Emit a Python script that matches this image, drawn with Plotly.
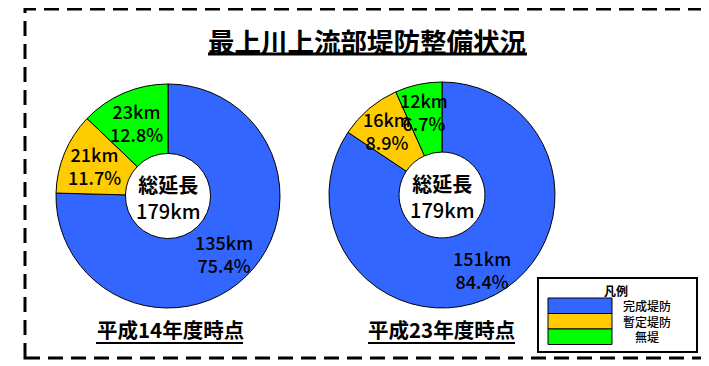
import math
import plotly.graph_objects as go

# page body has an 8px default margin; figure is sized to fill the rest of the window
OFF = 8
W, H = 709 - OFF, 366 - OFF

# ---- data ----
categories = ["完成堤防", "暫定堤防", "無堤"]
km_h14 = [135, 21, 23]
pct_h14 = ["75.4%", "11.7%", "12.8%"]
km_h23 = [151, 16, 12]
pct_h23 = ["84.4%", "8.9%", "6.7%"]
period_labels = ["平成14年度時点", "平成23年度時点"]
title_text = "最上川上流部堤防整備状況"
colors = ["#3366FF", "#FFCC00", "#00FF00"]

FONT = "Noto Sans CJK JP"

def px(x):
    return (x - OFF) / W

def py(y):
    return 1 - (y - OFF) / H

fig = go.Figure()

pies = [
    dict(vals=km_h14, pcts=pct_h14, cx=168, cy=196, r=112, rlab=80, lab=period_labels[0], lx=170, ux=(96, 243)),
    dict(vals=km_h23, pcts=pct_h23, cx=442, cy=195, r=113, rlab=85, lab=period_labels[1], lx=441, ux=(368, 515)),
]

annotations = []
shapes = []

for p in pies:
    cx, cy, r = p["cx"], p["cy"], p["r"]
    fig.add_trace(go.Pie(
        labels=categories,
        values=p["vals"],
        sort=False,
        direction="clockwise",
        rotation=0,
        hole=0.38,
        marker=dict(colors=colors, line=dict(color="black", width=1)),
        textinfo="none",
        hoverinfo="label+value",
        showlegend=False,
        domain=dict(x=[px(cx - r), px(cx + r)], y=[py(cy + r), py(cy - r)]),
    ))
    total = sum(p["vals"])
    cum = 0
    for v, pc in zip(p["vals"], p["pcts"]):
        mid = (cum + v / 2) / total * 2 * math.pi
        cum += v
        x = cx + p["rlab"] * math.sin(mid)
        y = cy - p["rlab"] * math.cos(mid)
        annotations.append(dict(
            x=px(x), y=py(y), xref="paper", yref="paper", showarrow=False,
            text=f"{v}km<br>{pc}",
            font=dict(family=FONT, size=18, color="black", weight=500),
            align="center", xanchor="center", yanchor="middle",
        ))
    annotations.append(dict(
        x=px(cx), y=py(cy + 1), xref="paper", yref="paper", showarrow=False,
        text=f"<b>総延長</b><br>{total}km",
        font=dict(family=FONT, size=20, color="black", weight=500),
        align="center", xanchor="center", yanchor="middle",
    ))
    annotations.append(dict(
        x=px(p["lx"]), y=py(329), xref="paper", yref="paper", showarrow=False,
        text=f"<b>{p['lab']}</b>", font=dict(family=FONT, size=20.5, color="black"),
        xanchor="center", yanchor="middle",
    ))
    shapes.append(dict(type="line", xref="paper", yref="paper",
                       x0=px(p["ux"][0]), x1=px(p["ux"][1]), y0=py(343), y1=py(343),
                       line=dict(color="black", width=2)))

# title
annotations.append(dict(
    x=px(367), y=py(40), xref="paper", yref="paper", showarrow=False,
    text=f"<b>{title_text}</b>", font=dict(family=FONT, size=26.5, color="black"),
    xanchor="center", yanchor="middle",
))
shapes.append(dict(type="line", xref="paper", yref="paper",
                   x0=px(208), x1=px(527), y0=py(54), y1=py(54),
                   line=dict(color="black", width=3)))

# dashed outer border
shapes.append(dict(type="rect", xref="paper", yref="paper",
                   x0=px(25), x1=px(707), y0=py(358), y1=py(9),
                   line=dict(color="black", width=3, dash="15px,8px")))

# legend box
shapes.append(dict(type="rect", xref="paper", yref="paper",
                   x0=px(538), x1=px(697), y0=py(352), y1=py(278),
                   line=dict(color="black", width=2), fillcolor="white"))
annotations.append(dict(
    x=px(616), y=py(290), xref="paper", yref="paper", showarrow=False,
    text="<b>凡例</b>", font=dict(family=FONT, size=12, color="black"),
    xanchor="center", yanchor="middle",
))
row_tops = [298, 313.5, 329]
row_h = 15.5
for i, (cat, col) in enumerate(zip(categories, colors)):
    y0 = row_tops[i]
    shapes.append(dict(type="rect", xref="paper", yref="paper",
                       x0=px(548), x1=px(612), y0=py(y0 + row_h), y1=py(y0),
                       line=dict(color="black", width=1), fillcolor=col))
    annotations.append(dict(
        x=px(647), y=py(y0 + row_h / 2), xref="paper", yref="paper", showarrow=False,
        text=cat, font=dict(family=FONT, size=12, color="black", weight=500),
        xanchor="center", yanchor="middle", height=15,
    ))

fig.update_layout(
    width=W, height=H,
    margin=dict(l=0, r=0, t=0, b=0),
    paper_bgcolor="white", plot_bgcolor="white",
    annotations=annotations, shapes=shapes,
    font=dict(family=FONT),
)

fig.write_html("out.html")
